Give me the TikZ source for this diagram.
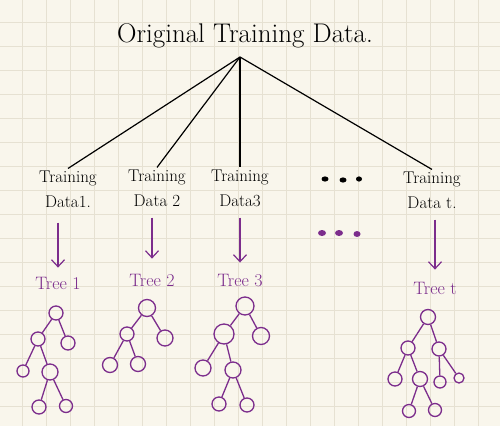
\documentclass[tikz,border=0pt]{standalone}
\usepackage{fontspec}
\usepackage{tikz}
\usetikzlibrary{arrows.meta}

\definecolor{paper}{RGB}{249,246,236}
\definecolor{gridline}{RGB}{230,225,210}
\definecolor{treepurple}{RGB}{124,45,140}

\tikzset{
	datalabel/.style = {align = center, font = \fontsize{17}{25}\selectfont, inner sep = 2pt},
	treelabel/.style = {text = treepurple, font = \fontsize{18}{20}\selectfont, inner sep = 2pt},
	treenode/.style = {circle, draw = treepurple, line width = 1.3pt, inner sep = 0pt, minimum size = #1},
	treeedge/.style = {draw = treepurple, line width = 1.3pt},
	splitline/.style = {line width = 1.2pt},
	growarrow/.style = {treepurple, line width = 1.2pt, -{Straight Barb[length = 7pt, width = 13pt]}}
}

\begin{document}
\begin{tikzpicture}[x = 1pt, y = -1pt]
	\def\gridX{22.5};
	\def\gridY{22};
	\def\gridStep{24};

	% paper and grid
	\fill [paper] (0,0) rectangle (500,426);
	\useasboundingbox (0,0) rectangle (500,426);
	\begin{scope}[gridline, line width = 0.8pt]
		\foreach \i in {0,...,19}
			\draw (\gridX + \i*\gridStep,0) -- (\gridX + \i*\gridStep,426);
		\foreach \j in {0,...,16}
			\draw (0,\gridY + \j*\gridStep) -- (500,\gridY + \j*\gridStep);
	\end{scope}

	% title and its split
	\node [font = \fontsize{27}{30}\selectfont] (title) at (245,36) {Original Training Data.};
	\coordinate (top) at (240,57);

	\begin{scope}
		\node [datalabel] (d1) at (68,189) {Training\\Data1.};
		\node [datalabel] (d2) at (157,188) {Training\\Data 2};
		\node [datalabel] (d3) at (240,188) {Training\\Data3};
		\node [datalabel] (dt) at (432,190) {Training\\Data t.};
	\end{scope}

	\begin{scope}[splitline]
		\draw (top) -- (d1.north);
		\draw (top) -- (d2.north);
		\draw (top) -- (d3.north);
		\draw (top) -- (dt.north);
	\end{scope}

	% dots
	\begin{scope}
		\fill (325,179) ellipse [x radius = 3.5, y radius = 2.6];
		\fill (343,180) ellipse [x radius = 3.5, y radius = 2.6];
		\fill (359,179) ellipse [x radius = 3, y radius = 2.6];
		\fill [treepurple] (322,233) ellipse [x radius = 4, y radius = 3];
		\fill [treepurple] (339,233) ellipse [x radius = 4, y radius = 3];
		\fill [treepurple] (357,234) ellipse [x radius = 3.5, y radius = 3];
	\end{scope}

	% tree labels and arrows
	\begin{scope}
		\node [treelabel] (t1) at (58,283) {Tree 1};
		\node [treelabel] (t2) at (152,280) {Tree 2};
		\node [treelabel] (t3) at (240,281) {Tree 3};
		\node [treelabel] (tt) at (435,288) {Tree t};
	\end{scope}

	\begin{scope}[growarrow]
		\draw [shorten <= 13pt, shorten >= 7pt] (t1.north |- d1.south) -- (t1.north);
		\draw [shorten <= 9pt, shorten >= 13pt] (t2.north |- d2.south) -- (t2.north);
		\draw [shorten <= 9pt, shorten >= 10pt] (t3.north |- d3.south) -- (t3.north);
		\draw [shorten <= 9pt, shorten >= 10pt] (tt.north |- dt.south) -- (tt.north);
	\end{scope}

	% tree 1
	\begin{scope}
		\node [treenode = 14pt] (a) at (56,313) {};
		\node [treenode = 14pt] (aL) at (38,339) {};
		\node [treenode = 14pt] (aR) at (68,343) {};
		\node [treenode = 12pt] (aLL) at (23,371) {};
		\node [treenode = 16pt] (aLR) at (50,372) {};
		\node [treenode = 14pt] (aLRL) at (39,407) {};
		\node [treenode = 13pt] (aLRR) at (66,406) {};
		\draw [treeedge] (a) -- (aL) (a) -- (aR) (aL) -- (aLL) (aL) -- (aLR)
			(aLR) -- (aLRL) (aLR) -- (aLRR);
	\end{scope}

	% tree 2
	\begin{scope}
		\node [treenode = 17pt] (b) at (147,308) {};
		\node [treenode = 14pt] (bL) at (127,334) {};
		\node [treenode = 16pt] (bR) at (165,338) {};
		\node [treenode = 15pt] (bLL) at (110,365) {};
		\node [treenode = 15pt] (bLR) at (138,364) {};
		\draw [treeedge] (b) -- (bL) (b) -- (bR) (bL) -- (bLL) (bL) -- (bLR);
	\end{scope}

	% tree 3
	\begin{scope}
		\node [treenode = 18pt] (c) at (245,306) {};
		\node [treenode = 20pt] (cL) at (224,334) {};
		\node [treenode = 17pt] (cR) at (261,336) {};
		\node [treenode = 16pt] (cLL) at (203,368) {};
		\node [treenode = 16pt] (cLR) at (233,370) {};
		\node [treenode = 14pt] (cLRL) at (219,404) {};
		\node [treenode = 14pt] (cLRR) at (247,405) {};
		\draw [treeedge] (c) -- (cL) (c) -- (cR) (cL) -- (cLL) (cL) -- (cLR)
			(cLR) -- (cLRL) (cLR) -- (cLRR);
	\end{scope}

	% tree t
	\begin{scope}
		\node [treenode = 15pt] (e) at (428,317) {};
		\node [treenode = 14pt] (eL) at (408,348) {};
		\node [treenode = 14pt] (eR) at (439,349) {};
		\node [treenode = 14pt] (eLL) at (395,379) {};
		\node [treenode = 15pt] (eLR) at (420,379) {};
		\node [treenode = 12pt] (eRL) at (440,382) {};
		\node [treenode = 10pt] (eRR) at (459,378) {};
		\node [treenode = 13pt] (eLRL) at (409,411) {};
		\node [treenode = 13pt] (eLRR) at (435,410) {};
		\draw [treeedge] (e) -- (eL) (e) -- (eR) (eL) -- (eLL) (eL) -- (eLR)
			(eR) -- (eRL) (eR) -- (eRR) (eLR) -- (eLRL) (eLR) -- (eLRR);
	\end{scope}
\end{tikzpicture}
\end{document}
